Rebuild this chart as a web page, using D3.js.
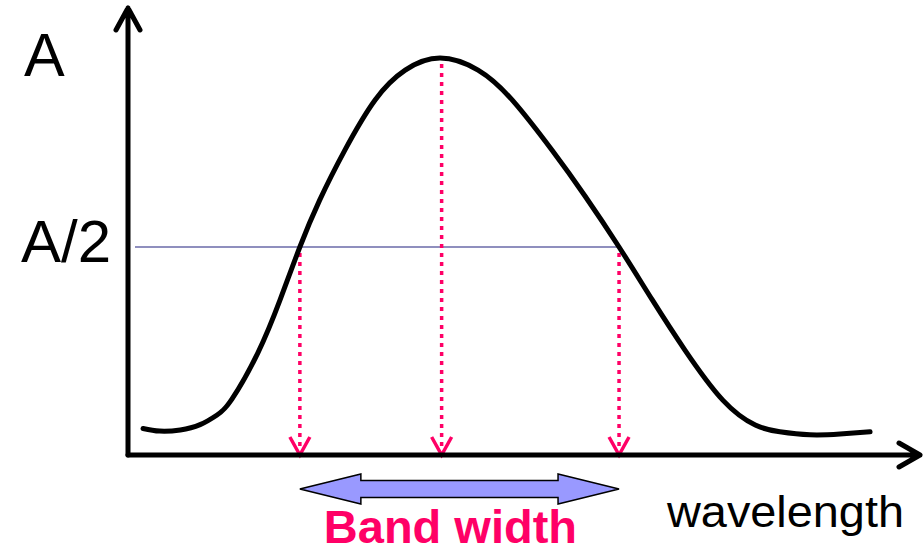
<!DOCTYPE html>
<html lang="en">
<head>
  <meta charset="UTF-8">
  <title>Band width</title>
  <script src="https://d3js.org/d3.v7.min.js"></script>
  <style>
    body { margin: 0; background: #fff; }
    text { font-family: "Liberation Sans", Arial, sans-serif; }
    .axis { fill: none; stroke: #000; stroke-width: 5px; stroke-linecap: round; stroke-linejoin: round; }
    .curve { fill: none; stroke: #000; stroke-width: 5px; stroke-linecap: round; }
    .half { stroke: #6a6aa8; stroke-width: 1.5px; }
    .drop { stroke: #ff0066; stroke-width: 3.5px; stroke-dasharray: 4 5; }
    .tip { fill: none; stroke: #ff0066; stroke-width: 3.5px; stroke-linejoin: miter; }
    .band { fill: #9999ff; stroke: #000; stroke-width: 1.5px; }
  </style>
</head>
<body>
<svg width="923" height="553" id="chart"></svg>

<script>
  // wavelength (arbitrary units) and absorbance (fraction of peak A)
  const wavelength = [1.9, 4.0, 6.6, 9.1, 11.2, 13.1, 16.4, 19.2, 21.7, 24.2, 27.4, 31.2, 35.0,
                      39.4, 44.2, 48.5, 53.5, 57.7, 62.0, 66.2, 70.3, 75.1, 79.2, 82.3,
                      86.1, 89.9, 93.7];
  const absorbance = [0.02, 0.013, 0.016, 0.03, 0.055, 0.097, 0.22, 0.36, 0.50, 0.624, 0.757,
                      0.889, 0.968, 1.00, 0.968, 0.889, 0.757, 0.635, 0.50, 0.36, 0.228,
                      0.095, 0.029, 0.011, 0.003, 0.005, 0.011];
  const peakWl = 39.6;
  const halfWl = [21.7, 62.0];
  const yLabels = [{ text: 'A', v: 1 }, { text: 'A/2', v: 0.5 }];

  const svg = d3.select('#chart');
  const x = d3.scaleLinear().domain([0, 100]).range([128, 920]);
  const y = d3.scaleLinear().domain([0, 1]).range([436, 58]);
  const axisY = 455;

  // half-height line
  svg.append('line').attr('class', 'half')
    .attr('x1', 135).attr('x2', x(halfWl[1]))
    .attr('y1', y(0.5)).attr('y2', y(0.5));

  // dotted drop lines with open arrow heads
  const drops = [
    { wl: halfWl[0], v: 0.5 },
    { wl: peakWl, v: 1 },
    { wl: halfWl[1], v: 0.5 }
  ];
  svg.selectAll('.drop').data(drops).enter().append('line')
    .attr('class', 'drop')
    .attr('x1', d => x(d.wl)).attr('x2', d => x(d.wl))
    .attr('y1', d => y(d.v) + 6).attr('y2', axisY - 4);
  svg.selectAll('.tip').data(drops).enter().append('path')
    .attr('class', 'tip')
    .attr('d', d => `M${x(d.wl) - 10},${axisY - 18}L${x(d.wl)},${axisY}L${x(d.wl) + 10},${axisY - 18}`);

  // absorbance curve
  const line = d3.line()
    .x(d => x(d[0]))
    .y(d => y(d[1]))
    .curve(d3.curveNatural);
  svg.append('path').attr('class', 'curve')
    .attr('d', line(d3.zip(wavelength, absorbance)));

  // axes with arrow heads
  const [x0, x1] = x.range();
  svg.append('path').attr('class', 'axis')
    .attr('d', `M${x0},${axisY}V8M${x0 - 12},30L${x0},8L${x0 + 12},30`);
  svg.append('path').attr('class', 'axis')
    .attr('d', `M${x0},${axisY}H${x1}M${x1 - 21},443L${x1},${axisY}L${x1 - 21},467`);

  // band width double arrow
  const bx0 = x(halfWl[0]), bx1 = x(halfWl[1]), by = 489;
  const hw = 61, hh = 15, sh = 8.5;
  svg.append('path').attr('class', 'band')
    .attr('d', `M${bx0},${by}L${bx0 + hw},${by - hh}V${by - sh}H${bx1 - hw}V${by - hh}` +
               `L${bx1},${by}L${bx1 - hw},${by + hh}V${by + sh}H${bx0 + hw}V${by + hh}Z`);

  // labels
  svg.append('text').attr('x', 24).attr('y', 76)
    .style('font-size', '61px').text(yLabels[0].text);
  svg.append('text').attr('x', 21).attr('y', 262)
    .style('font-size', '60px').text(yLabels[1].text);
  svg.append('text').attr('x', 667).attr('y', 527)
    .attr('textLength', 237).attr('lengthAdjust', 'spacingAndGlyphs')
    .style('font-size', '45px').text('wavelength');
  svg.append('text').attr('x', (bx0 + bx1) / 2 - 9).attr('y', 543)
    .attr('text-anchor', 'middle')
    .style('font-size', '47px').style('font-weight', 'bold').style('fill', '#ff0066')
    .text('Band width');
</script>
</body>
</html>
